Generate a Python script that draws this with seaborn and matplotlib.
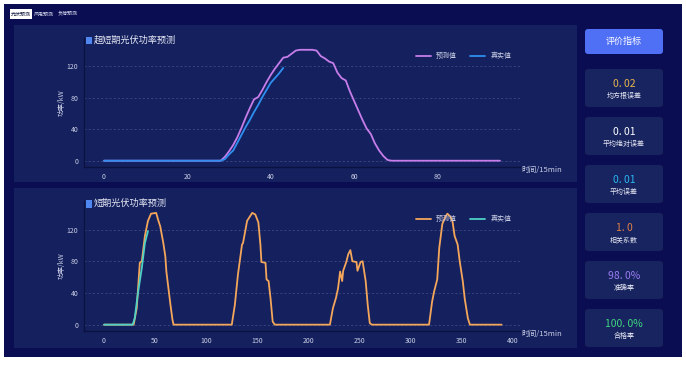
import matplotlib
matplotlib.use('Agg')
import matplotlib.pyplot as plt
import matplotlib.transforms as mtransforms
from matplotlib.patches import FancyBboxPatch, Rectangle
import seaborn as sns
import pandas as pd

# ---- data ----
# ultra-short-term (96 x 15min)
ultra_t = list(range(96))
ultra_pred = [0] * 29 + [5, 12, 20, 30, 42, 55, 67, 78, 81, 90,
                         100, 109, 117, 124, 131, 132, 136, 140, 141, 141,
                         141, 141, 140, 133, 130, 126, 124, 112, 105, 102,
                         88, 76, 64, 52, 41, 34, 22, 13, 6, 1] + [0] * 27
real_t = list(range(44))
ultra_real = [0] * 29 + [2, 8, 13, 23, 33, 43, 52, 62, 71, 81, 90, 99, 105, 111, 118]

# short-term (4 days), key points of the curve
short_t = [0, 29, 32, 35, 37, 40, 43, 46, 51, 53,
           55, 58, 60, 61, 63, 65, 67, 68,
           125, 128, 131, 135, 136, 140, 143, 145, 148, 151,
           153, 154, 158, 159, 161, 163, 165, 167,
           221, 224, 227, 229, 231, 233, 234, 237, 239, 241,
           243, 247, 248, 251, 253, 256, 258, 260, 262,
           318, 321, 323, 326, 328, 331, 334, 336, 339, 341,
           343, 346, 348, 351, 353, 356, 358, 389]
short_pred = [0, 0, 21, 78, 80, 112, 131, 140, 141, 132,
              124, 103, 86, 67, 46, 25, 6, 0,
              0, 25, 63, 101, 103, 131, 137, 141, 139, 129,
              101, 79, 78, 57, 55, 32, 4, 0,
              0, 21, 34, 46, 67, 55, 68, 79, 89, 94,
              80, 79, 68, 79, 80, 55, 25, 2, 0,
              0, 29, 42, 57, 97, 127, 136, 140, 136, 130,
              112, 101, 80, 55, 32, 8, 0, 0]
short_real_t = [0, 28, 30, 33, 37, 40, 43]
short_real = [0, 0, 8, 38, 72, 103, 118]

tabs = ['光伏预测', '风电预测', '负荷预测']
metric_values = ['0. 02', '0. 01', '0. 01', '1. 0', '98. 0%', '100. 0%']
metric_names = ['均方根误差', '平均绝对误差', '平均误差', '相关系数', '准确率', '合格率']
metric_colors = ['#e8b54c', '#ffffff', '#29b6f0', '#e07f45', '#9b7cf2', '#3fd67f']

sns.set_theme(style='dark')
plt.rcParams['font.family'] = ['Noto Sans CJK SC', 'DejaVu Sans']

BG = '#0a0d52'
PANEL = '#15215f'
CARD = '#18245f'
TXT = '#c9cde4'

W, H = 686, 365
fig = plt.figure(figsize=(6.86, 3.65), dpi=100)
fig.patch.set_facecolor('white')
ident = mtransforms.IdentityTransform()


def box(x0, y0, x1, y1, color, r=0.0):
    # pixel coords, y measured from top
    p = FancyBboxPatch((x0, H - y1), x1 - x0, y1 - y0,
                       boxstyle=f'round,pad=0,rounding_size={r}',
                       transform=ident, facecolor=color, edgecolor='none',
                       zorder=-5)
    fig.patches.append(p)


def ftext(x, y, s, **kw):
    fig.text(x / W, 1 - y / H, s, **kw)


box(4, 4, 682, 357, BG)
box(14, 25, 577, 182, PANEL)
box(14, 188, 577, 348, PANEL)

# tabs
box(10, 9, 32, 19, 'white')
tab_x = [21, 44, 68]
for i, (tx, name) in enumerate(zip(tab_x, tabs)):
    ftext(tx, 14, name, fontsize=3.6, ha='center', va='center',
          color='#10163f' if i == 0 else '#d8dcf0')

# right side metric cards
box(585, 29, 663, 54, '#4f6ff5', r=3)
ftext(624, 41.5, '评价指标', fontsize=6.5, ha='center', va='center', color='white')
card_tops = [69, 117, 165, 213, 261, 309]
for top, val, name, col in zip(card_tops, metric_values, metric_names, metric_colors):
    box(585, top, 663, top + 38, CARD, r=3)
    ftext(624, top + 15, val, fontsize=7.5, ha='center', va='center', color=col)
    ftext(624, top + 27, name, fontsize=5, ha='center', va='center', color='#e6e8f4')


def style_axes(ax, title, xticks, xlim):
    ax.set_facecolor('none')
    ax.set_zorder(2)
    ax.set_xlim(*xlim)
    ax.set_ylim(-8, 156)
    ax.set_xticks(xticks)
    ax.set_yticks([0, 40, 80, 120])
    ax.tick_params(axis='both', labelsize=5, colors=TXT, length=2, width=0.5, pad=2)
    ax.grid(axis='y', color='#44518a', linestyle=(0, (3, 3)), linewidth=0.5)
    ax.grid(axis='x', visible=False)
    for s in ['top', 'right']:
        ax.spines[s].set_visible(False)
    for s in ['left', 'bottom']:
        ax.spines[s].set_visible(True)
        ax.spines[s].set_color('#0b1140')
        ax.spines[s].set_linewidth(1.0)
    ax.set_xlabel('')
    ax.set_ylabel('功率/kW', fontsize=5, color=TXT, labelpad=0.5)
    ax.text(1.004, -0.02, '时间/15min', transform=ax.transAxes, fontsize=5.5,
            color=TXT, ha='left', va='center')
    sq = Rectangle((0.004, 0.95), 0.014, 0.055, transform=ax.transAxes,
                   facecolor='#4f86f0', edgecolor='none', clip_on=False)
    ax.add_patch(sq)
    ax.text(0.022, 0.98, title, transform=ax.transAxes, fontsize=6.6,
            color='#e6e8f4', ha='left', va='center')
    leg = ax.legend(loc='upper right', bbox_to_anchor=(0.995, 0.94), ncol=2,
                    frameon=False, fontsize=5, handlelength=2.1,
                    columnspacing=1.9, handletextpad=0.8)
    for t in leg.get_texts():
        t.set_color(TXT)


# top axes
ax1 = fig.add_axes([84 / W, 1 - 167 / H, 436 / W, 129 / H])
df1 = pd.DataFrame({'t': ultra_t, 'v': ultra_pred})
df1r = pd.DataFrame({'t': real_t, 'v': ultra_real})
sns.lineplot(data=df1, x='t', y='v', ax=ax1, color='#c77dea', linewidth=1.3, label='预测值')
sns.lineplot(data=df1r, x='t', y='v', ax=ax1, color='#2f8ff0', linewidth=1.3, label='真实值')
style_axes(ax1, '超短期光伏功率预测', [0, 20, 40, 60, 80], (-4.8, 99.8))

# bottom axes
ax2 = fig.add_axes([84 / W, 1 - 331 / H, 436 / W, 130 / H])
df2 = pd.DataFrame({'t': short_t, 'v': short_pred})
df2r = pd.DataFrame({'t': short_real_t, 'v': short_real})
sns.lineplot(data=df2, x='t', y='v', ax=ax2, color='#f4a65a', linewidth=1.3, label='预测值')
sns.lineplot(data=df2r, x='t', y='v', ax=ax2, color='#4fd1c5', linewidth=1.3, label='真实值')
style_axes(ax2, '短期光伏功率预测', [0, 50, 100, 150, 200, 250, 300, 350, 400],
           (-19.6, 407))

fig.savefig('out.png', dpi=100, facecolor=fig.get_facecolor())
